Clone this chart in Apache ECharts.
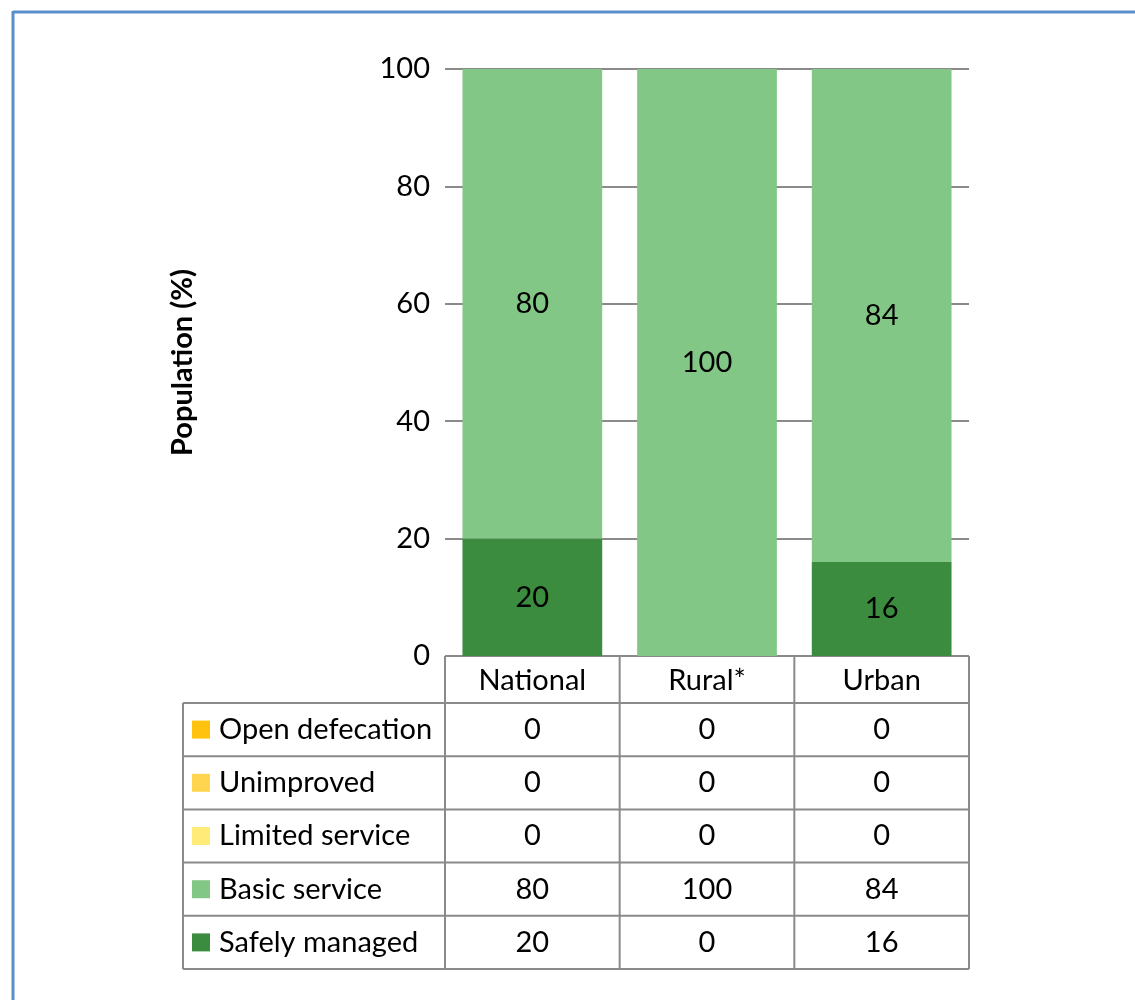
<!DOCTYPE html>
<html>
<head>
<meta charset="utf-8">
<script src="https://cdn.jsdelivr.net/npm/echarts@6/dist/echarts.min.js"></script>
<style>
  html, body { margin: 0; padding: 0; background: #fff; }
  #chart { width: 1135px; height: 1000px; }
</style>
</head>
<body>
<div id="chart"></div>
<script>
// Sanitation service levels by area (percent of population)
const categories = ['National', 'Rural*', 'Urban'];
const openDefecation = [0, 0, 0];
const unimproved = [0, 0, 0];
const limitedService = [0, 0, 0];
const basicService = [80, 100, 84];
const safelyManaged = [20, 0, 16];
const yTicks = [0, 20, 40, 60, 80, 100];

const FONT = 'Lato, "Open Sans", sans-serif';
const FS = 29;
const GRID = { left: 445, top: 69, width: 524, height: 587 };
const TABLE_LEFT = 183;
const HEADER_H = 47;
const ROW_H = 53.2;
const LINE = '#8a8a8a';

// Stack order bottom to top; the table lists them top to bottom.
const seriesDefs = [
  { name: 'Safely managed', data: safelyManaged, color: '#3b8c3f' },
  { name: 'Basic service', data: basicService, color: '#82c785' },
  { name: 'Limited service', data: limitedService, color: '#ffeb78' },
  { name: 'Unimproved', data: unimproved, color: '#ffd54f' },
  { name: 'Open defecation', data: openDefecation, color: '#ffc20e' }
];

const chart = echarts.init(document.getElementById('chart'));

function buildGraphics() {
  const g = [];
  const colW = GRID.width / categories.length;
  const top0 = GRID.top + GRID.height;
  const rowsTop = top0 + HEADER_H;
  const tableRows = seriesDefs.slice().reverse();
  const bottom = rowsTop + ROW_H * tableRows.length;
  const right = GRID.left + GRID.width;
  const ls = { stroke: LINE, lineWidth: 2 };

  // outer frame (blue, top and left edges)
  g.push({ type: 'line', shape: { x1: 13, y1: 12, x2: 1135, y2: 12 }, style: { stroke: '#5b8fcb', lineWidth: 3 } });
  g.push({ type: 'line', shape: { x1: 13, y1: 11, x2: 13, y2: 1000 }, style: { stroke: '#5b8fcb', lineWidth: 3 } });

  // header row and table borders
  g.push({ type: 'line', shape: { x1: GRID.left, y1: top0, x2: right, y2: top0 }, style: ls });
  for (let k = 0; k <= categories.length; k++) {
    const x = GRID.left + k * colW;
    g.push({ type: 'line', shape: { x1: x, y1: top0, x2: x, y2: bottom }, style: ls });
  }
  g.push({ type: 'line', shape: { x1: TABLE_LEFT, y1: rowsTop, x2: TABLE_LEFT, y2: bottom }, style: ls });
  for (let r = 0; r <= tableRows.length; r++) {
    const y = rowsTop + r * ROW_H;
    g.push({ type: 'line', shape: { x1: TABLE_LEFT, y1: y, x2: right, y2: y }, style: ls });
  }

  // table rows: legend key, name, values
  tableRows.forEach((s, r) => {
    const cy = rowsTop + r * ROW_H + ROW_H / 2;
    g.push({ type: 'rect', shape: { x: 192, y: cy - 9, width: 18, height: 18 }, style: { fill: s.color } });
    g.push({
      type: 'text', x: 219, y: cy,
      style: { text: s.name, font: FS + 'px ' + FONT, fill: '#000', textVerticalAlign: 'middle', textAlign: 'left' }
    });
    s.data.forEach((v, i) => {
      const cx = chart.convertToPixel({ xAxisIndex: 0 }, i);
      g.push({
        type: 'text', x: cx, y: cy,
        style: { text: String(v), font: FS + 'px ' + FONT, fill: '#000', textVerticalAlign: 'middle', textAlign: 'center' }
      });
    });
  });
  return g;
}

chart.setOption({
  animation: false,
  backgroundColor: '#fff',
  grid: GRID,
  xAxis: {
    type: 'category',
    data: categories,
    axisLine: { show: false },
    axisTick: { show: false },
    axisLabel: { fontSize: FS, fontFamily: FONT, color: '#000', margin: 10 }
  },
  yAxis: {
    type: 'value',
    min: yTicks[0],
    max: yTicks[yTicks.length - 1],
    interval: 20,
    name: 'Population (%)',
    nameLocation: 'middle',
    nameGap: 248,
    nameRotate: 90,
    nameTextStyle: { fontSize: 29, fontWeight: 'bold', fontFamily: FONT, color: '#000' },
    axisLine: { show: false },
    axisTick: { show: false },
    axisLabel: { fontSize: FS, fontFamily: FONT, color: '#000', margin: 15 },
    splitLine: { lineStyle: { color: LINE, width: 2 } }
  },
  series: seriesDefs.map(s => ({
    type: 'bar',
    name: s.name,
    stack: 'total',
    data: s.data,
    barWidth: '80%',
    itemStyle: { color: s.color },
    label: {
      show: true,
      position: 'inside',
      fontSize: FS,
      fontFamily: FONT,
      color: '#000',
      formatter: p => (p.value > 0 ? String(p.value) : '')
    }
  }))
});

chart.setOption({ graphic: buildGraphics() });
</script>
</body>
</html>
